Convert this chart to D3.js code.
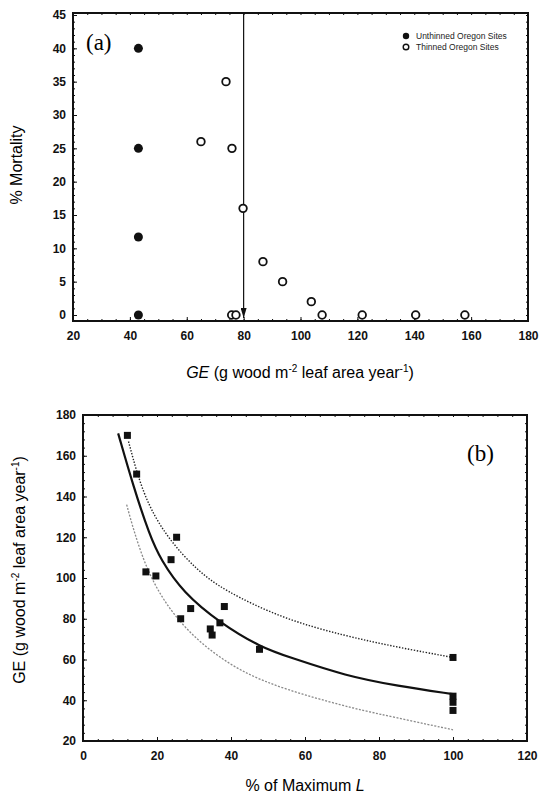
<!DOCTYPE html>
<html>
<head>
<meta charset="utf-8">
<script src="https://cdn.jsdelivr.net/npm/d3@7"></script>
<style>
  body { margin: 0; background: #fff; }
  svg text { font-family: "Liberation Sans", Arial, sans-serif; }
  .tk text { font-weight: bold; font-size: 12px; fill: #111; }
  .tk path, .tk line { stroke: #111; }
</style>
</head>
<body>
<div id="chart"></div>
<script>
// panel (a): mortality vs growth efficiency
var unthinnedGE   = [43, 43, 43, 43],
    unthinnedMort = [40, 25, 11.7, 0],
    thinnedGE     = [65, 73.8, 75.9, 79.8, 86.8, 93.7, 103.8, 107.6, 121.7, 140.5, 157.8, 75.8, 77.3],
    thinnedMort   = [26, 35, 25, 16, 8, 5, 2, 0, 0, 0, 0, 0, 0],
    thresholdGE   = 80,
    xTicksA       = [20, 40, 60, 80, 100, 120, 140, 160, 180],
    yTicksA       = [0, 5, 10, 15, 20, 25, 30, 35, 40, 45];

// panel (b): GE vs % of maximum L
var pctMaxL   = [12, 14.5, 25.3, 23.8, 17, 19.7, 26.4, 29.1, 34.4, 34.9, 37, 38.2, 47.7, 100, 100, 100, 100],
    geB       = [170, 151, 120, 109, 103, 101, 80, 85, 75, 72, 78, 86, 65, 61, 42, 39, 35],
    fitX      = [9.5, 13.6, 18, 21, 27, 37, 48, 56, 71, 85, 100],
    fitY      = [171, 145, 121, 109, 93, 78, 66, 61, 52, 47, 43],
    upperX    = [12.3, 16.3, 22.6, 30.7, 38, 54, 71, 85, 100],
    upperY    = [167, 140, 120, 104, 94, 80, 71.5, 66, 61],
    lowerX    = [11.8, 13.6, 16.3, 19.5, 24.4, 31.6, 42.4, 55, 71, 78, 100],
    lowerY    = [136, 124, 109, 96, 82, 68, 54, 45, 37, 34, 25.5],
    xTicksB   = [0, 20, 40, 60, 80, 100, 120],
    yTicksB   = [20, 40, 60, 80, 100, 120, 140, 160, 180];

var svg = d3.select('#chart').append('svg')
    .attr('width', 539)
    .attr('height', 800);

function frame(x, y, xTicks, yTicks, xMinor, yMinor) {
    var r = x.range(), t = y.range();
    var g = svg.append('g').attr('class', 'tk');
    // minor ticks all round
    g.append('g').attr('transform', 'translate(0,' + t[0] + ')')
        .call(d3.axisBottom(x).tickValues(xMinor).tickSize(-2).tickFormat(''));
    g.append('g').attr('transform', 'translate(0,' + t[1] + ')')
        .call(d3.axisTop(x).tickValues(xMinor).tickSize(-2).tickFormat(''));
    g.append('g').attr('transform', 'translate(' + r[0] + ',0)')
        .call(d3.axisLeft(y).tickValues(yMinor).tickSize(-2).tickFormat(''));
    g.append('g').attr('transform', 'translate(' + r[1] + ',0)')
        .call(d3.axisRight(y).tickValues(yMinor).tickSize(-2).tickFormat(''));
    // major ticks + labels
    var xb = g.append('g').attr('transform', 'translate(0,' + t[0] + ')')
        .call(d3.axisBottom(x).tickValues(xTicks).tickSize(-4).tickPadding(9));
    g.append('g').attr('transform', 'translate(' + r[0] + ',0)')
        .call(d3.axisLeft(y).tickValues(yTicks).tickSize(-4).tickPadding(7));
    g.selectAll('.domain').remove();
    xb.selectAll('text').attr('dy', '0.85em');
    svg.append('rect')
        .attr('x', r[0]).attr('y', t[1])
        .attr('width', r[1] - r[0]).attr('height', t[0] - t[1])
        .attr('fill', 'none').attr('stroke', '#111').attr('stroke-width', 2);
}

// ---------- panel (a)
var xA = d3.scaleLinear().domain([20, 180]).range([73, 528]),
    yA = d3.scaleLinear().domain([-0.9, 45.3]).range([321, 13]);

frame(xA, yA, xTicksA, yTicksA, d3.range(20, 181, 5), d3.range(0, 46, 1));

// threshold arrow
svg.append('defs').append('marker')
    .attr('id', 'arr')
    .attr('viewBox', '0 0 10 6')
    .attr('refX', 10).attr('refY', 3)
    .attr('markerWidth', 10).attr('markerHeight', 6)
    .attr('markerUnits', 'userSpaceOnUse')
    .attr('orient', 'auto')
    .append('path').attr('d', 'M0,0 L10,3 L0,6 Z').attr('fill', '#111');
svg.append('line')
    .attr('x1', xA(thresholdGE)).attr('x2', xA(thresholdGE))
    .attr('y1', yA.range()[1]).attr('y2', yA(0) + 3)
    .attr('stroke', '#111').attr('stroke-width', 1.2)
    .attr('marker-end', 'url(#arr)');

svg.append('g').selectAll('circle')
    .data(thinnedGE)
    .enter().append('circle')
    .attr('cx', function(d) { return xA(d); })
    .attr('cy', function(d, i) { return yA(thinnedMort[i]); })
    .attr('r', 3.8)
    .attr('fill', '#fff').attr('stroke', '#111').attr('stroke-width', 1.8);

svg.append('g').selectAll('circle')
    .data(unthinnedGE)
    .enter().append('circle')
    .attr('cx', function(d) { return xA(d); })
    .attr('cy', function(d, i) { return yA(unthinnedMort[i]); })
    .attr('r', 4.5)
    .attr('fill', '#111');

// legend
svg.append('circle').attr('cx', 406).attr('cy', 36).attr('r', 3.2).attr('fill', '#111');
svg.append('circle').attr('cx', 406).attr('cy', 47).attr('r', 2.8)
    .attr('fill', '#fff').attr('stroke', '#111').attr('stroke-width', 1.4);
svg.append('text').attr('x', 416).attr('y', 39).style('font-size', '8.5px').attr('fill', '#222')
    .text('Unthinned Oregon Sites');
svg.append('text').attr('x', 416).attr('y', 50).style('font-size', '8.5px').attr('fill', '#222')
    .text('Thinned Oregon Sites');

svg.append('text').attr('x', 86).attr('y', 50)
    .style('font-family', '"Liberation Serif", "Times New Roman", serif')
    .style('font-size', '23px').text('(a)');

svg.append('text')
    .attr('transform', 'translate(22,165) rotate(-90)')
    .attr('text-anchor', 'middle').style('font-size', '16px')
    .text('% Mortality');

var xlabA = svg.append('text').attr('x', 300).attr('y', 378)
    .attr('text-anchor', 'middle').style('font-size', '16px');
xlabA.append('tspan').style('font-style', 'italic').text('GE');
xlabA.append('tspan').text(' (g wood m');
xlabA.append('tspan').attr('dy', -6).style('font-size', '10px').text('-2');
xlabA.append('tspan').attr('dy', 6).text(' leaf area year');
xlabA.append('tspan').attr('dy', -6).style('font-size', '10px').text('-1');
xlabA.append('tspan').attr('dy', 6).text(')');

// ---------- panel (b)
var xB = d3.scaleLinear().domain([0, 120]).range([83, 527]),
    yB = d3.scaleLinear().domain([20, 180]).range([741, 415]);

frame(xB, yB, xTicksB, yTicksB, d3.range(0, 121, 4), d3.range(20, 181, 4));

var line = d3.line().curve(d3.curveBasis)
    .x(function(d) { return xB(d[0]); })
    .y(function(d) { return yB(d[1]); });

svg.append('path')
    .datum(lowerX.map(function(d, i) { return [d, lowerY[i]]; }))
    .attr('d', line).attr('fill', 'none')
    .attr('stroke', '#8a8a8a').attr('stroke-width', 1.3)
    .attr('stroke-dasharray', '2,1.5');
svg.append('path')
    .datum(upperX.map(function(d, i) { return [d, upperY[i]]; }))
    .attr('d', line).attr('fill', 'none')
    .attr('stroke', '#222').attr('stroke-width', 1.4)
    .attr('stroke-dasharray', '1.4,1.6');
svg.append('path')
    .datum(fitX.map(function(d, i) { return [d, fitY[i]]; }))
    .attr('d', line).attr('fill', 'none')
    .attr('stroke', '#111').attr('stroke-width', 2.2);

svg.append('g').selectAll('rect')
    .data(pctMaxL)
    .enter().append('rect')
    .attr('x', function(d) { return xB(d) - 3.5; })
    .attr('y', function(d, i) { return yB(geB[i]) - 3.5; })
    .attr('width', 7).attr('height', 7)
    .attr('fill', '#111');

svg.append('text').attr('x', 467).attr('y', 461)
    .style('font-family', '"Liberation Serif", "Times New Roman", serif')
    .style('font-size', '23px').text('(b)');

var ylabB = svg.append('text')
    .attr('transform', 'translate(25,570) rotate(-90)')
    .attr('text-anchor', 'middle').style('font-size', '16px');
ylabB.append('tspan').text('GE (g wood m');
ylabB.append('tspan').attr('dy', -6).style('font-size', '10px').text('-2');
ylabB.append('tspan').attr('dy', 6).text(' leaf area year');
ylabB.append('tspan').attr('dy', -6).style('font-size', '10px').text('-1');
ylabB.append('tspan').attr('dy', 6).text(')');

var xlabB = svg.append('text').attr('x', 305).attr('y', 791)
    .attr('text-anchor', 'middle').style('font-size', '16px');
xlabB.append('tspan').text('% of Maximum ');
xlabB.append('tspan').style('font-style', 'italic').text('L');
</script>
</body>
</html>
